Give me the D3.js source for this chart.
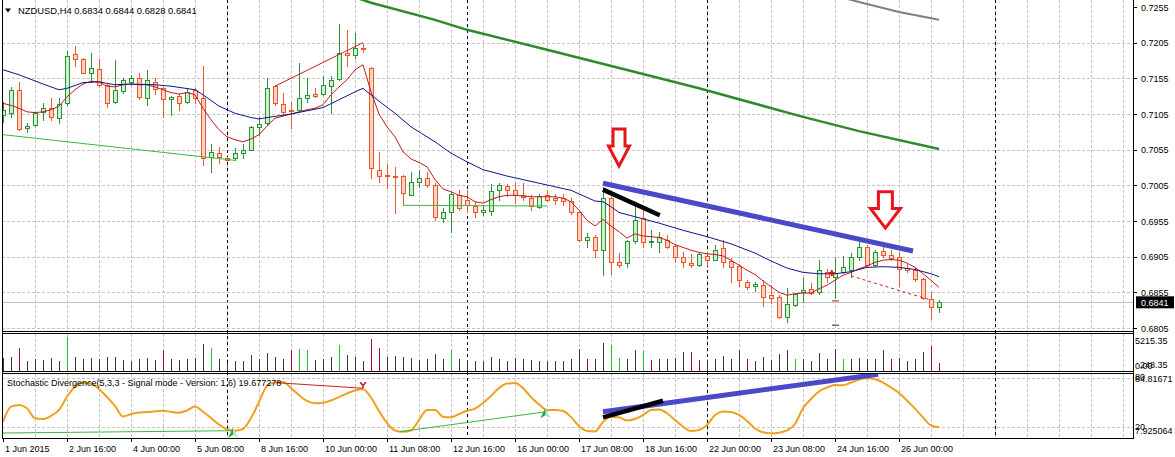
<!DOCTYPE html>
<html>
<head>
<meta charset="utf-8">
<script src="https://cdnjs.cloudflare.com/ajax/libs/d3/7.8.5/d3.min.js"></script>
<style>
  body { margin: 0; background: #fff; }
  svg text { font-family: "Liberation Sans", Arial, sans-serif; font-size: 9px; fill: #000; }
</style>
</head>
<body>
<div id="chart"></div>
<script>
// NZDUSD H4, first bar = 1 Jun 2015 08:00, one bar every 4 hours (no weekend bars)
// candles: [open, high, low, close]
var candles = [
  [0.7103,0.7122,0.7094,0.7110],[0.7107,0.7143,0.7101,0.7138],[0.7139,0.7150,0.7082,0.7084],[0.7085,0.7093,0.7080,0.7088],
  [0.7089,0.7108,0.7088,0.7106],[0.7108,0.7121,0.7097,0.7114],[0.7113,0.7127,0.7097,0.7101],[0.7100,0.7128,0.7092,0.7119],
  [0.7120,0.7194,0.7118,0.7186],[0.7189,0.7200,0.7172,0.7182],[0.7182,0.7184,0.7162,0.7163],[0.7162,0.7190,0.7150,0.7170],
  [0.7168,0.7182,0.7144,0.7146],[0.7146,0.7149,0.7115,0.7121],[0.7122,0.7181,0.7121,0.7139],[0.7137,0.7156,0.7134,0.7152],
  [0.7150,0.7160,0.7145,0.7155],[0.7156,0.7162,0.7126,0.7129],[0.7128,0.7166,0.7118,0.7152],[0.7150,0.7156,0.7133,0.7140],
  [0.7141,0.7143,0.7101,0.7126],[0.7126,0.7130,0.7104,0.7129],[0.7130,0.7133,0.7111,0.7121],[0.7122,0.7142,0.7121,0.7136],
  [0.7139,0.7141,0.7120,0.7128],[0.7127,0.7172,0.7034,0.7044],[0.7045,0.7063,0.7024,0.7052],[0.7051,0.7059,0.7037,0.7045],
  [0.7043,0.7045,0.7040,0.7041],[0.7043,0.7057,0.7041,0.7051],[0.7050,0.7063,0.7043,0.7055],[0.7055,0.7088,0.7054,0.7087],
  [0.7087,0.7101,0.7076,0.7091],[0.7092,0.7156,0.7091,0.7142],[0.7144,0.7146,0.7118,0.7120],[0.7119,0.7135,0.7105,0.7108],
  [0.7111,0.7122,0.7086,0.7109],[0.7111,0.7177,0.7110,0.7127],[0.7128,0.7155,0.7122,0.7131],[0.7133,0.7141,0.7129,0.7130],
  [0.7133,0.7158,0.7131,0.7146],[0.7144,0.7158,0.7106,0.7152],[0.7154,0.7231,0.7153,0.7190],[0.7191,0.7223,0.7172,0.7188],
  [0.7188,0.7219,0.7184,0.7197],[0.7198,0.7203,0.7192,0.7196],[0.7170,0.7171,0.7015,0.7029],[0.7027,0.7052,0.7010,0.7018],
  [0.7019,0.7035,0.7001,0.7018],[0.7018,0.7031,0.6966,0.7017],[0.7018,0.7020,0.6977,0.6994],[0.6992,0.7024,0.6991,0.7010],
  [0.7010,0.7027,0.7003,0.7015],[0.7015,0.7024,0.7003,0.7005],[0.7005,0.7008,0.6957,0.6961],[0.6959,0.6973,0.6953,0.6967],
  [0.6968,0.6995,0.6940,0.6993],[0.6991,0.6998,0.6971,0.6973],[0.6985,0.6999,0.6968,0.6977],[0.6976,0.6982,0.6960,0.6968],
  [0.6967,0.6976,0.6963,0.6970],[0.6969,0.7007,0.6963,0.6997],[0.6998,0.7008,0.6984,0.7005],[0.7004,0.7007,0.6990,0.6998],
  [0.6999,0.7008,0.6980,0.6991],[0.6991,0.7008,0.6984,0.6989],[0.6987,0.6991,0.6971,0.6976],[0.6974,0.6993,0.6973,0.6990],
  [0.6992,0.6999,0.6983,0.6984],[0.6987,0.6993,0.6979,0.6985],[0.6987,0.6993,0.6977,0.6983],[0.6983,0.6987,0.6965,0.6967],
  [0.6967,0.6968,0.6927,0.6928],[0.6928,0.6938,0.6918,0.6932],[0.6932,0.6935,0.6904,0.6915],[0.6914,0.7002,0.6879,0.6987],
  [0.6987,0.6989,0.6881,0.6897],[0.6898,0.6910,0.6891,0.6893],[0.6896,0.6929,0.6891,0.6927],[0.6927,0.6977,0.6924,0.6957],
  [0.6959,0.6970,0.6919,0.6926],[0.6925,0.6943,0.6919,0.6927],[0.6925,0.6939,0.6911,0.6932],[0.6929,0.6935,0.6917,0.6918],
  [0.6920,0.6923,0.6897,0.6904],[0.6904,0.6911,0.6890,0.6897],[0.6896,0.6909,0.6890,0.6894],[0.6893,0.6911,0.6892,0.6909],
  [0.6906,0.6911,0.6893,0.6901],[0.6901,0.6921,0.6900,0.6915],[0.6917,0.6928,0.6891,0.6897],[0.6899,0.6903,0.6870,0.6890],
  [0.6892,0.6895,0.6864,0.6872],[0.6870,0.6872,0.6859,0.6863],[0.6864,0.6870,0.6857,0.6866],[0.6865,0.6872,0.6836,0.6849],
  [0.6851,0.6865,0.6840,0.6847],[0.6849,0.6851,0.6819,0.6821],[0.6820,0.6861,0.6814,0.6839],[0.6837,0.6854,0.6836,0.6852],
  [0.6855,0.6875,0.6841,0.6858],[0.6859,0.6868,0.6853,0.6854],[0.6855,0.6900,0.6853,0.6887],[0.6884,0.6888,0.6870,0.6877],
  [0.6877,0.6903,0.6847,0.6882],[0.6884,0.6906,0.6882,0.6890],[0.6887,0.6910,0.6877,0.6904],[0.6904,0.6925,0.6901,0.6918],
  [0.6918,0.6921,0.6891,0.6893],[0.6893,0.6914,0.6892,0.6911],[0.6913,0.6918,0.6904,0.6907],[0.6907,0.6915,0.6900,0.6903],
  [0.6905,0.6911,0.6864,0.6888],[0.6889,0.6895,0.6884,0.6887],[0.6887,0.6891,0.6871,0.6873],[0.6873,0.6875,0.6845,0.6847],
  [0.6845,0.6856,0.6817,0.6834],[0.6834,0.6844,0.6828,0.6841]
];

// short moving average (red), one value per bar
var maFast = [
  0.7120,0.7117,0.7113,0.7108,0.7107,0.7108,0.7111,0.7116,0.7129,0.7139,
  0.7147,0.7151,0.7150,0.7144,0.7143,0.7146,0.7147,0.7146,0.7146,0.7143,
  0.7139,0.7135,0.7133,0.7135,0.7132,0.7113,0.7097,0.7083,0.7073,0.7069,
  0.7066,0.7070,0.7076,0.7088,0.7099,0.7102,0.7105,0.7108,0.7111,0.7113,
  0.7118,0.7132,0.7143,0.7153,0.7167,0.7174,0.7136,0.7105,0.7087,0.7073,
  0.7052,0.7042,0.7037,0.7031,0.7013,0.7000,0.6996,0.6991,0.6989,0.6982,
  0.6980,0.6985,0.6989,0.6991,0.6991,0.6990,0.6989,0.6989,0.6989,0.6989,
  0.6987,0.6982,0.6970,0.6956,0.6948,0.6957,0.6948,0.6940,0.6931,0.6937,
  0.6934,0.6933,0.6932,0.6928,0.6922,0.6918,0.6914,0.6911,0.6909,0.6908,
  0.6906,0.6900,0.6893,0.6886,0.6880,0.6871,0.6863,0.6855,0.6851,0.6853,
  0.6854,0.6854,0.6860,0.6865,0.6872,0.6879,0.6883,0.6888,0.6892,0.6897,
  0.6900,0.6901,0.6900,0.6896,0.6890,0.6881,0.6872,0.6862
];

// medium moving average (navy), read at these bars
var maMidBars = [0,2,5,7,8,10,12,14,16,19,21,24,25,27,29,31,32,33,36,40,42,44,45,47,49,51,54,56,58,60,
  63,67,71,74,75,76,77,80,82,85,88,91,94,96,98,100,102,104,106,108,110,112,114,116,117];
var maMidVals = [0.7167,0.7160,0.7147,0.7139,0.7141,0.7149,0.7150,0.7146,0.7147,0.7146,
  0.7144,0.7139,0.7132,0.7116,0.7106,0.7100,0.7098,0.7100,0.7105,0.7114,
  0.7125,0.7136,0.7141,0.7123,0.7106,0.7087,0.7066,0.7050,0.7038,0.7027,
  0.7018,0.7008,0.6998,0.6983,0.6982,0.6975,0.6967,0.6958,0.6952,0.6942,
  0.6933,0.6923,0.6910,0.6899,0.6889,0.6883,0.6881,0.6881,0.6884,0.6890,
  0.6891,0.6890,0.6887,0.6881,0.6877];

// slow averages (green, grey), enter from above the window
var maSlowBars = [42,46,54,58,68,80,87,100,107,117];
var maSlowVals = [0.7276,0.7261,0.7237,0.7223,0.7195,0.7161,0.7141,0.7101,0.7081,0.7056];
var maSlowestBars = [105,107,112,117];
var maSlowestVals = [0.7268,0.7262,0.7248,0.7237];

// volumes and their colour class (k = normal, g = up, r = down)
var volumes = [
  1900,2100,3300,1500,1700,1600,1900,1500,4900,2000,
  1700,1900,1800,2000,2100,1600,1500,1800,1900,1600,
  3000,1700,1600,1800,1900,3900,3400,1800,1200,1400,
  1500,2300,1800,2600,2000,1700,3000,3200,3000,1600,
  1700,2000,3700,2300,2000,1500,4600,3400,2000,2200,
  2000,1900,1600,1700,2400,1800,3000,1800,1600,1500,
  1500,2100,1800,1500,1900,1700,1600,1500,1400,1500,
  1400,1800,3200,1700,1800,4000,3800,1900,1800,3000,
  2900,1600,1700,1800,1900,2800,2700,1600,1600,1700,
  2200,1800,3000,1700,1500,2000,1600,2400,3100,1800,
  1700,1500,2600,1700,3200,1700,1800,1900,1700,1800,
  3000,1700,1900,1500,1800,2800,3600,1200
];
var volColors = "kkrkkkkkgkkkkkkkkkkkrkkkkkgkkkkkkkkkrggkkkgkkkrrkkkkkkkkgkkkkkkkkkkkkkkkkrkkggkkgrkkkkrrkkkkkrkkkkkgkkkkkgkkkkkrkkkkrrk";

// stochastic main line, one value per bar
var stoch = [
  26.6,44.9,47.0,43.0,30.7,29.9,33.6,40.9,57.1,69.3,
  74.2,73.2,66.5,56.7,45.8,32.9,36.0,37.8,38.4,39.3,
  39.9,38.7,37.6,40.3,45.2,38.8,31.1,23.2,17.3,15.6,
  17.7,31.1,50.6,70.2,74.4,75.1,67.7,59.2,51.9,49.1,
  49.8,52.5,56.7,61.0,64.7,66.1,56.1,39.7,25.0,15.9,
  14.4,15.9,28.7,40.9,40.9,32.7,32.0,36.0,40.0,42.5,
  49.4,58.0,67.7,73.2,73.8,67.7,56.7,47.6,40.9,40.9,
  39.7,32.3,21.4,15.2,14.6,26.2,32.7,32.0,28.1,29.9,
  34.8,40.9,41.5,36.9,28.7,20.7,15.2,16.5,22.6,34.8,
  39.0,38.4,34.8,27.5,18.3,13.7,12.4,13.2,15.9,23.8,
  43.0,54.3,63.5,68.3,71.4,71.0,74.4,78.1,79.6,78.3,
  74.4,68.3,61.6,52.5,42.5,31.7,22.0,19.7
];

// time axis labels every 8 bars
var timeLabels = ["1 Jun 2015","2 Jun 16:00","4 Jun 00:00","5 Jun 08:00","8 Jun 16:00","10 Jun 00:00",
  "11 Jun 08:00","12 Jun 16:00","16 Jun 00:00","17 Jun 08:00","18 Jun 16:00","22 Jun 00:00",
  "23 Jun 08:00","24 Jun 16:00","26 Jun 00:00"];
var priceTicks = [0.7255,0.7205,0.7155,0.7105,0.7055,0.7005,0.6955,0.6905,0.6855,0.6805];
var separatorBars = [28,58,88,124];

// hand drawn objects: [bar, price] pairs
var priceLines = [
  {a:[0,0.7076],   b:[29,0.7040],   color:"#3cb83c", w:1},
  {a:[34,0.7144],  b:[45,0.7205],   color:"#cc2020", w:1},
  {a:[50,0.6977],  b:[68,0.6976],   color:"#3cb83c", w:1},
  {a:[106,0.6878], b:[116,0.6844],  color:"#cc2020", w:1, dash:"3,3"},
  {a:[75,0.7008],  b:[113.75,0.6913], color:"#4a4ac8", w:5},
  {a:[75,0.6999],  b:[82.1,0.6963], color:"#000", w:4.5}
];
var stochLines = [
  {a:[0,12.8],    b:[28.6,15.6],  color:"#3cb83c", w:1},
  {a:[34.2,74.2], b:[45,67.4],    color:"#cc2020", w:1},
  {a:[49.6,14.4], b:[67.9,38.8],  color:"#3cb83c", w:1},
  {a:[75,38.8],   b:[109.4,84.5], color:"#4a4ac8", w:5},
  {a:[75,31.9],   b:[82.5,52.2],  color:"#000", w:4.5}
];
// down arrows: bar, top price, tip price, shaft half width, head half width (px)
var downArrows = [[77,0.7084,0.7032,6,10.5],[110.3,0.6996,0.6945,7,15]];
var bidPrice = 0.6841;

var W = 1175, H = 457;
var left = 2, right = 1133;
var panelPrice = {top: 0, bottom: 332};
var panelVol = {top: 334, bottom: 372};
var panelStoch = {top: 374, bottom: 438};

var svg = d3.select("#chart").append("svg").attr("width", W).attr("height", H);

var x = d3.scaleLinear().domain([0, 1]).range([3, 11]);
var y = d3.scaleLinear().domain([0.6805, 0.7255]).range([328, 7]);
var yVol = d3.scaleLinear().domain([0, 5215.35]).range([371, 335]);
var yStoch = d3.scaleLinear().domain([7.925064, 84.81671]).range([437, 374]);

var defs = svg.append("defs");
defs.append("clipPath").attr("id", "clipPrice").append("rect")
  .attr("x", left).attr("y", 0).attr("width", right - left).attr("height", panelPrice.bottom);
defs.append("clipPath").attr("id", "clipStoch").append("rect")
  .attr("x", left).attr("y", panelStoch.top).attr("width", right - left).attr("height", panelStoch.bottom - panelStoch.top);

// grid
var grid = svg.append("g").attr("stroke", "#c4c4c4").attr("stroke-dasharray", "3,2").attr("shape-rendering", "crispEdges");
var gridBars = d3.range(4, 141, 4);
[panelPrice, panelVol, panelStoch].forEach(function(p) {
  grid.selectAll(null).data(gridBars).join("line")
    .attr("x1", d => x(d) + 0.5).attr("x2", d => x(d) + 0.5)
    .attr("y1", p.top).attr("y2", p.bottom);
});
grid.selectAll(null).data(priceTicks.slice(1)).join("line")
  .attr("x1", left).attr("x2", right).attr("y1", d => Math.round(y(d)) + 0.5).attr("y2", d => Math.round(y(d)) + 0.5);
grid.selectAll(null).data([80, 20]).join("line")
  .attr("x1", left).attr("x2", right).attr("y1", d => Math.round(yStoch(d)) + 0.5).attr("y2", d => Math.round(yStoch(d)) + 0.5);

// period separators
svg.append("g").attr("stroke", "#000").attr("stroke-dasharray", "3,3").attr("shape-rendering", "crispEdges")
  .selectAll("line").data(separatorBars).join("line")
  .attr("x1", d => x(d) + 0.5).attr("x2", d => x(d) + 0.5).attr("y1", 0).attr("y2", panelStoch.bottom);

// bid line
svg.append("line").attr("x1", left).attr("x2", right)
  .attr("y1", Math.round(y(bidPrice)) + 0.5).attr("y2", Math.round(y(bidPrice)) + 0.5)
  .attr("stroke", "#c0c0c0");

var priceG = svg.append("g").attr("clip-path", "url(#clipPrice)");

function lineFromPairs(bars, vals) {
  return d3.line().x((d, i) => x(bars[i])).y(d => y(d))(vals);
}
priceG.append("path").attr("d", lineFromPairs(maSlowestBars, maSlowestVals))
  .attr("fill", "none").attr("stroke", "#808080").attr("stroke-width", 2);
priceG.append("path").attr("d", lineFromPairs(maSlowBars, maSlowVals))
  .attr("fill", "none").attr("stroke", "#2f8a2f").attr("stroke-width", 2.5);

// candles
var bullFill = "#c9f4c9", bullLine = "#2f8f3a", bearFill = "#fbd0c6", bearLine = "#e8592a";
var cg = priceG.append("g").attr("shape-rendering", "crispEdges");
cg.selectAll("line").data(candles).join("line")
  .attr("x1", (d, i) => x(i) + 0.5).attr("x2", (d, i) => x(i) + 0.5)
  .attr("y1", d => Math.round(y(d[1]))).attr("y2", d => Math.round(y(d[2])) + 1)
  .attr("stroke", d => d[3] >= d[0] ? bullLine : bearLine);
cg.selectAll("path").data(candles).join("path")
  .attr("d", function(d, i) {
    var yt = Math.round(y(Math.max(d[0], d[3]))) + 0.5;
    var yb = Math.round(y(Math.min(d[0], d[3]))) + 0.5;
    var x0 = x(i) - 1.5, x1 = x(i) + 2.5;
    return "M" + x0 + "," + yt + "H" + x1 + "V" + yb + "H" + x0 + "Z";
  })
  .attr("fill", d => d[3] >= d[0] ? bullFill : bearFill)
  .attr("stroke", d => d[3] >= d[0] ? bullLine : bearLine);

priceG.append("path").attr("d", d3.line().x((d, i) => x(i)).y(d => y(d))(maFast))
  .attr("fill", "none").attr("stroke", "#c21818").attr("stroke-width", 1);
priceG.append("path").attr("d", lineFromPairs(maMidBars, maMidVals))
  .attr("fill", "none").attr("stroke", "#14148c").attr("stroke-width", 1);

priceG.selectAll("line.obj").data(priceLines).join("line").attr("class", "obj")
  .attr("x1", d => x(d.a[0])).attr("y1", d => y(d.a[1]))
  .attr("x2", d => x(d.b[0])).attr("y2", d => y(d.b[1]))
  .attr("stroke", d => d.color).attr("stroke-width", d => d.w)
  .attr("stroke-dasharray", d => d.dash || null);

// hollow down arrows
priceG.selectAll("path.arrow").data(downArrows).join("path").attr("class", "arrow")
  .attr("d", function(d) {
    var cx = x(d[0]), t = y(d[1]), b = y(d[2]), s = d[3], hw = d[4];
    var neck = t + (b - t) * 0.46;
    return "M" + (cx - s) + "," + t + "H" + (cx + s) + "V" + neck + "H" + (cx + hw) +
      "L" + cx + "," + b + "L" + (cx - hw) + "," + neck + "H" + (cx - s) + "Z";
  })
  .attr("fill", "#fff").attr("stroke", "#e8141c").attr("stroke-width", 3).attr("stroke-linejoin", "miter");

// order marks near bar 104
priceG.append("path").attr("d", "M" + (x(103.6) - 3) + "," + y(0.6882) + "h6M" + x(103.6) + "," + (y(0.6882) - 3) + "v6")
  .attr("stroke", "#e01010").attr("stroke-width", 2);
priceG.append("line").attr("x1", x(104) - 3).attr("x2", x(104) + 4).attr("y1", y(0.6843)).attr("y2", y(0.6843))
  .attr("stroke", "#d01010");
priceG.append("line").attr("x1", x(104) - 3).attr("x2", x(104) + 4).attr("y1", y(0.6809)).attr("y2", y(0.6809))
  .attr("stroke", "#1a1a6a");

// volumes
var volColorMap = {k: "#3a3a3a", g: "#22c022", r: "#a0103a"};
svg.append("g").attr("shape-rendering", "crispEdges").selectAll("line").data(volumes).join("line")
  .attr("x1", (d, i) => x(i) + 0.5).attr("x2", (d, i) => x(i) + 0.5)
  .attr("y1", yVol(0)).attr("y2", d => Math.round(yVol(d)))
  .attr("stroke", (d, i) => volColorMap[volColors[i]]);

// stochastic
var stG = svg.append("g").attr("clip-path", "url(#clipStoch)");
stG.append("path").attr("d", d3.line().x((d, i) => x(i)).y(d => yStoch(d)).curve(d3.curveMonotoneX)(stoch))
  .attr("fill", "none").attr("stroke", "#f0a01e").attr("stroke-width", 2);
stG.selectAll("line.obj").data(stochLines).join("line").attr("class", "obj")
  .attr("x1", d => x(d.a[0])).attr("y1", d => yStoch(d.a[1]))
  .attr("x2", d => x(d.b[0])).attr("y2", d => yStoch(d.b[1]))
  .attr("stroke", d => d.color).attr("stroke-width", d => d.w);
// signal arrows
[[28.75, 13], [67.8, 37]].forEach(function(p) {
  var cx = x(p[0]), cy = yStoch(p[1]);
  stG.append("path").attr("d", "M" + cx + "," + (cy - 5) + "L" + (cx + 5) + "," + (cy + 5) + "L" + cx + "," + (cy + 2) + "Z").attr("fill", "#a8ecc0");
  stG.append("path").attr("d", "M" + cx + "," + (cy - 5) + "L" + (cx - 5) + "," + (cy + 5) + "L" + cx + "," + (cy + 2) + "Z").attr("fill", "#1ea83c");
});
(function() {
  var cx = x(45), cy = yStoch(71);
  stG.append("path").attr("d", "M" + (cx - 3) + "," + (cy - 3) + "L" + cx + "," + cy + "L" + (cx + 3) + "," + (cy - 3) + "M" + cx + "," + cy + "V" + (cy + 3))
    .attr("fill", "none").attr("stroke", "#d01010").attr("stroke-width", 1.5);
})();

svg.append("text").attr("x", 7).attr("y", 386).text("Stochastic Divergence(5,3,3 - Signal mode - Version: 1.6) 19.677278");

// panel frames
var frame = svg.append("g").attr("fill", "none").attr("stroke", "#000").attr("shape-rendering", "crispEdges");
frame.append("line").attr("x1", left + 0.5).attr("x2", left + 0.5).attr("y1", 0).attr("y2", panelStoch.bottom);
frame.append("line").attr("x1", right + 0.5).attr("x2", right + 0.5).attr("y1", 0).attr("y2", panelStoch.bottom + 1);
[331.5, 333.5, 371.5, 373.5, 438.5].forEach(function(v) {
  frame.append("line").attr("x1", left).attr("x2", right + 1).attr("y1", v).attr("y2", v);
});

// price axis
var axR = svg.append("g");
axR.selectAll("line").data(priceTicks).join("line")
  .attr("x1", right).attr("x2", right + 4).attr("y1", d => Math.round(y(d)) + 0.5).attr("y2", d => Math.round(y(d)) + 0.5)
  .attr("stroke", "#000");
axR.selectAll("text").data(priceTicks).join("text")
  .attr("x", right + 8).attr("y", d => y(d) + 3.5).text(d => d.toFixed(4));
axR.append("rect").attr("x", right + 3).attr("y", y(bidPrice) - 6).attr("width", 38).attr("height", 12).attr("fill", "#000");
axR.append("text").attr("x", right + 8).attr("y", y(bidPrice) + 3.5).style("fill", "#fff").text(bidPrice.toFixed(4));

// volume / stochastic scale labels (overlapping as in the terminal)
axR.append("text").attr("x", right + 2).attr("y", 344).text("5215.35");
axR.append("text").attr("x", right + 2).attr("y", 369).text("0.00");
axR.append("text").attr("x", right + 7).attr("y", 367.5).text("248.35");
axR.append("text").attr("x", right + 2).attr("y", 379.5).text("80");
axR.append("text").attr("x", right + 2).attr("y", 381.5).text("84.81671");
axR.append("text").attr("x", right + 2).attr("y", 429.5).text("20");
axR.append("text").attr("x", right + 2).attr("y", 433.5).text("7.925064");

// time axis
var axB = svg.append("g");
axB.selectAll("line").data(timeLabels).join("line")
  .attr("x1", (d, i) => x(i * 8) + 0.5).attr("x2", (d, i) => x(i * 8) + 0.5)
  .attr("y1", panelStoch.bottom).attr("y2", panelStoch.bottom + 4).attr("stroke", "#000");
axB.selectAll("text").data(timeLabels).join("text")
  .attr("x", (d, i) => x(i * 8) + 2).attr("y", 452).text(d => d);

// title
svg.append("path").attr("d", "M5,8.5H11L8,12.5Z").attr("fill", "#000");
svg.append("text").attr("x", 18).attr("y", 14).style("font-size", "9.4px").text("NZDUSD,H4  0.6834 0.6844 0.6828 0.6841");
</script>
</body>
</html>
